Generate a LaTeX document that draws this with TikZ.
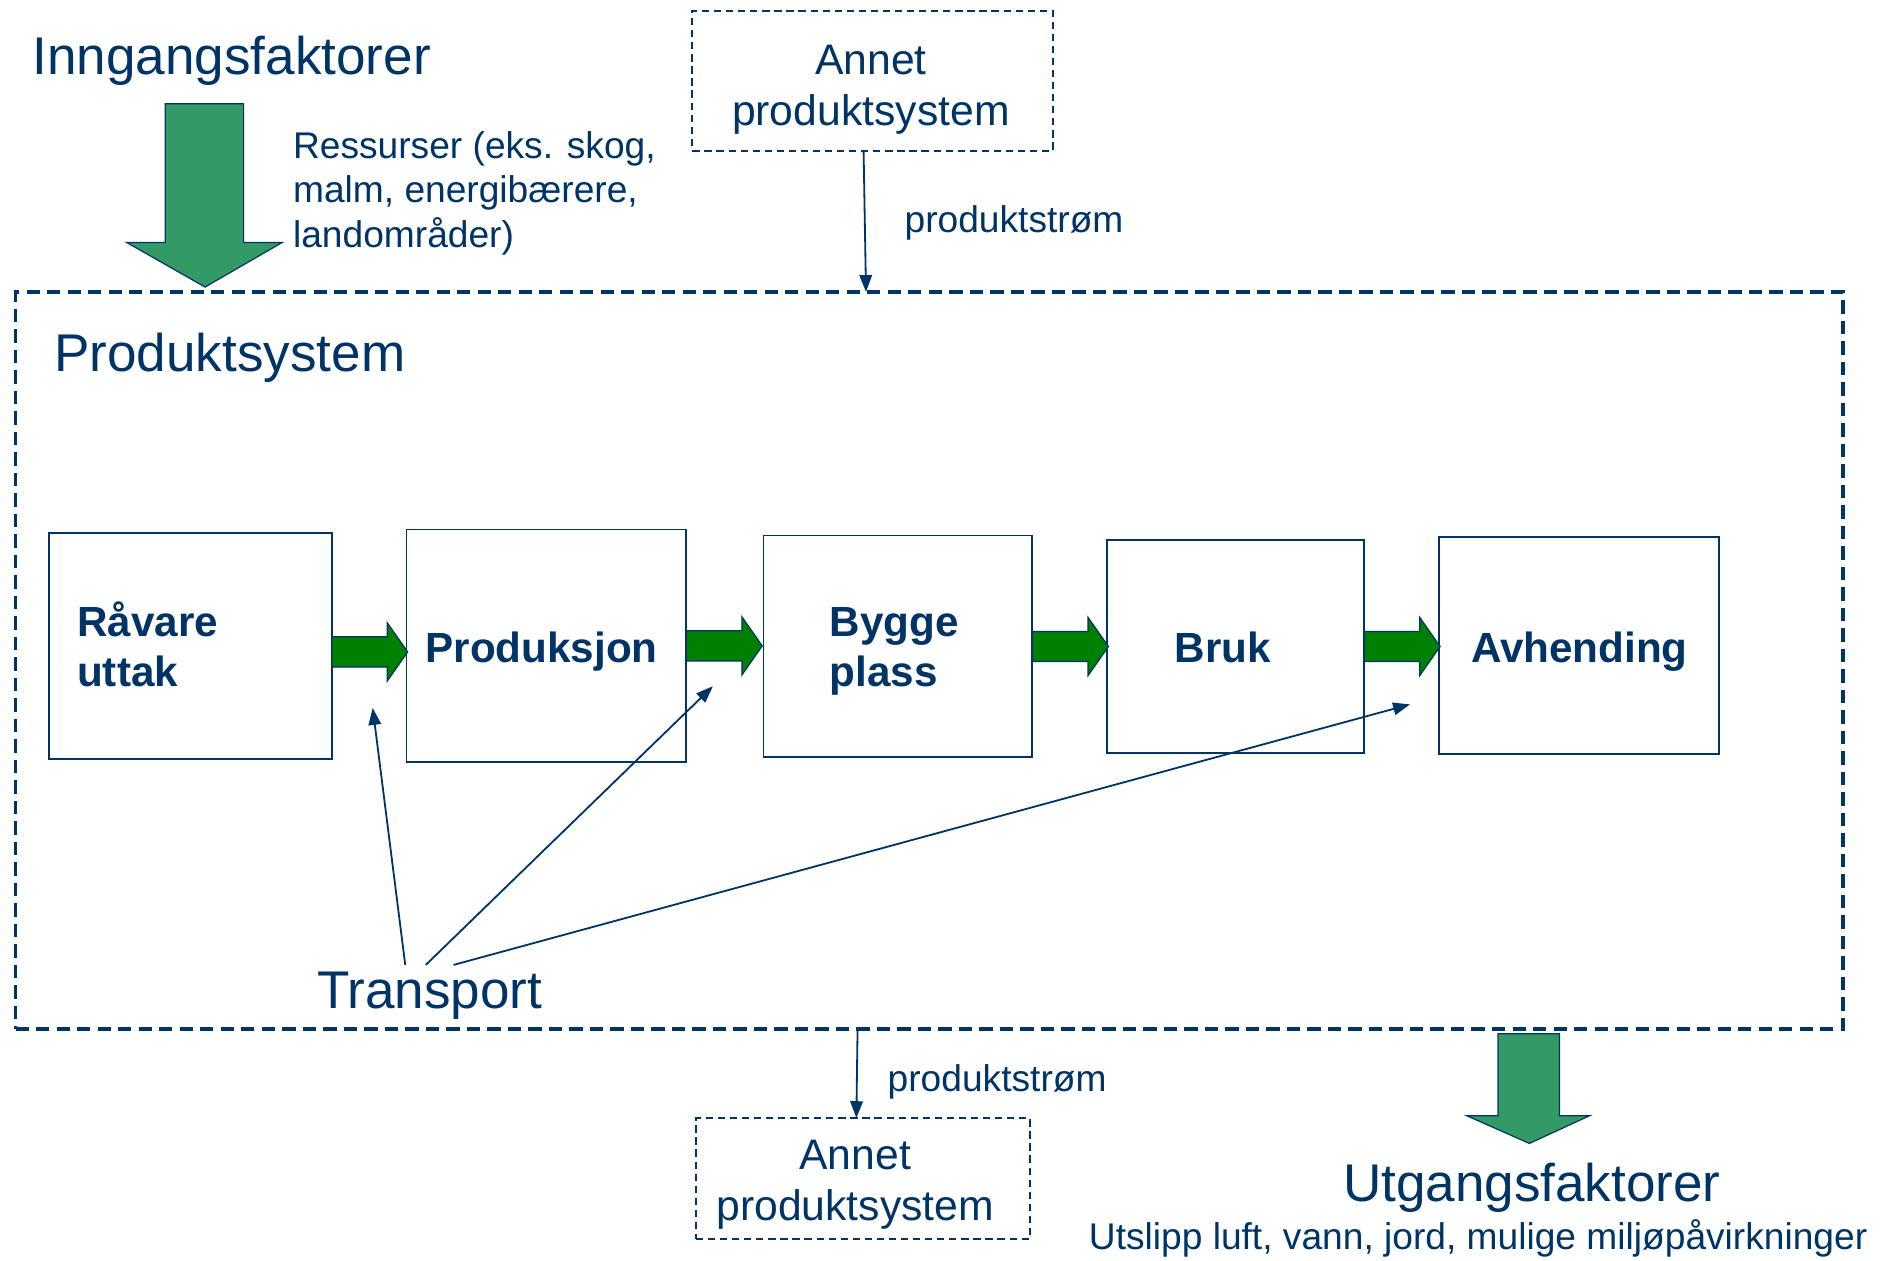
\documentclass[tikz,border=0pt]{standalone}
\usepackage{fontspec}
\setmainfont{Liberation Sans}
\usetikzlibrary{arrows.meta,shapes.arrows,calc}
\definecolor{navy}{HTML}{003366}
\definecolor{bulkgreen}{HTML}{339966}
\definecolor{flowgreen}{HTML}{008000}
\begin{document}
\begin{tikzpicture}[x=0.5pt,y=-0.5pt,
  every node/.style={inner sep=0pt, outer sep=0pt, text=navy},
  bigfont/.style={font=\fontsize{22}{26}\selectfont},
  smallfont/.style={font=\fontsize{15.4}{18.5}\selectfont},
  annetfont/.style={font=\fontsize{17.7}{21}\selectfont},
  stagefont/.style={font=\fontsize{17.5}{20.5}\selectfont\bfseries},
  stagebox/.style={draw=navy, line width=0.8pt},
  systembox/.style={draw=navy, line width=1.5pt, dash pattern=on 5.5pt off 3pt},
  otherbox/.style={draw=navy, line width=0.8pt, dash pattern=on 3pt off 2pt},
  flowarrow/.style={single arrow, draw=navy, fill=flowgreen, line width=0.5pt,
    minimum height=31.5pt, single arrow head extend=5.8pt,
    single arrow tip angle=110, inner xsep=0pt, inner ysep=6pt, anchor=tail},
  link/.style={draw=navy, line width=0.75pt, -{Triangle[length=7pt,width=5.2pt]}},
  bulk/.style={draw=navy, line width=0.5pt, fill=bulkgreen, line join=miter}
]
\useasboundingbox (0,0) rectangle (1567,1045);

% system boundary
\node[systembox, minimum width=757.5pt, minimum height=305.5pt] (system) at (770.5,547.5) {};
\node[bigfont, anchor=base west] (systitle) at (45,308) {Produktsystem};

% other product systems
\node[otherbox, minimum width=149.5pt, minimum height=58pt] (annetA) at (723.5,67) {};
\node[annetfont, anchor=base] (annetAl1) at (722,62) {Annet};
\node[annetfont, anchor=base] (annetAl2) at (722,104) {produktsystem};
\node[otherbox, minimum width=138.5pt, minimum height=50pt] (annetB) at (715.5,977) {};
\node[annetfont, anchor=base] (annetBl1) at (709,970) {Annet};
\node[annetfont, anchor=base] (annetBl2) at (709,1012) {produktsystem};

\coordinate (inflow) at (718,242);
\coordinate (outflow) at (711,853);
\draw[link] ([xshift=-3.75pt]annetA.south) -- (inflow);
\draw[link] (outflow) -- ([xshift=-2.75pt]annetB.north);
\node[smallfont, anchor=base west] (flowA) at (750,193) {produktstrøm};
\node[smallfont, anchor=base west] (flowB) at (736,905) {produktstrøm};

% inputs
\node[bigfont, anchor=base west] (inn) at (27,62) {Inngangsfaktorer};
\draw[bulk] (137,86) -- (202,86) -- (202,201) -- (234,201) -- (170,238) -- (105,201) -- (137,201) -- cycle;
\node[smallfont, anchor=base west] (res1) at (243,131) {Ressurser (eks. skog,};
\node[smallfont, anchor=base west] (res2) at (243,168) {malm, energibærere,};
\node[smallfont, anchor=base west] (res3) at (243,205) {landområder)};

% outputs
\draw[bulk] (1242,857) -- (1293,857) -- (1293,925) -- (1318,925) -- (1268,948) -- (1216,925) -- (1242,925) -- cycle;
\node[bigfont, anchor=base] (utg) at (1270,996) {Utgangsfaktorer};
\node[smallfont, anchor=base] (utsl) at (1225.5,1036) {Utslipp luft, vann, jord, mulige miljøpåvirkninger};

% life-cycle stages
\node[stagebox, minimum width=117pt, minimum height=93.5pt] (b1) at (158,535.5) {};
\node[stagebox, minimum width=116pt, minimum height=96.5pt] (b2) at (453,535.5) {};
\node[stagebox, minimum width=111.5pt, minimum height=92pt] (b3) at (744.5,536) {};
\node[stagebox, minimum width=106.5pt, minimum height=88pt] (b4) at (1024.5,536) {};
\node[stagebox, minimum width=116pt, minimum height=90pt] (b5) at (1309,535) {};

\node[stagefont, anchor=base west] (t1a) at (64,528) {Råvare};
\node[stagefont, anchor=base west] (t1b) at (64,569) {uttak};
\node[stagefont, anchor=base] (t2) at (449,549) {Produksjon};
\node[stagefont, anchor=base west] (t3a) at (688,528) {Bygge};
\node[stagefont, anchor=base west] (t3b) at (688,569) {plass};
\node[stagefont, anchor=base] (t4) at (1014,549) {Bruk};
\node[stagefont, anchor=base] (t5) at (1309.5,549) {Avhending};

\node[flowarrow, yshift=-2.5pt] (f1) at (b1.east) {};
\node[flowarrow] (f2) at (b2.east) {};
\node[flowarrow] (f3) at (b3.east) {};
\node[flowarrow] (f4) at (b4.east) {};

% transport
\node[bigfont, anchor=base west] (transport) at (263,836) {Transport};
\coordinate (ts1) at (336,800);
\coordinate (ts2) at (353,800);
\coordinate (ts3) at (376,800);
\coordinate (te1) at (309,587);
\coordinate (te2) at (591,569);
\coordinate (te3) at (1169,584);
\draw[link] (ts1) -- (te1);
\draw[link] (ts2) -- (te2);
\draw[link] (ts3) -- (te3);
\end{tikzpicture}
\end{document}
